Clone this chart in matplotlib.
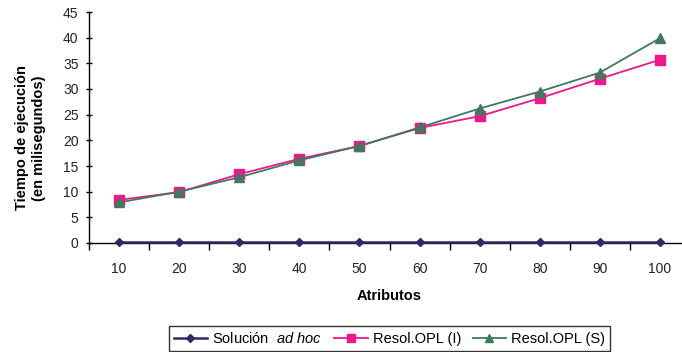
import matplotlib
matplotlib.use("Agg")
import matplotlib.pyplot as plt
from matplotlib.ticker import FixedLocator

plt.rcParams['font.family'] = ['Liberation Sans', 'DejaVu Sans']
plt.rcParams['mathtext.fontset'] = 'custom'
plt.rcParams['mathtext.rm'] = 'Liberation Sans'
plt.rcParams['mathtext.it'] = 'Liberation Sans:italic'

# Data
atributos = [10, 20, 30, 40, 50, 60, 70, 80, 90, 100]
ad_hoc = [0.1, 0.1, 0.1, 0.1, 0.1, 0.1, 0.1, 0.1, 0.1, 0.1]
opl_i = [8.4, 9.9, 13.4, 16.4, 18.9, 22.4, 24.7, 28.2, 32.0, 35.7]
opl_s = [7.9, 10.0, 12.8, 16.1, 18.9, 22.5, 26.2, 29.5, 33.2, 39.9]
yticks = [0, 5, 10, 15, 20, 25, 30, 35, 40, 45]

W, H = 682, 352
fig = plt.figure(figsize=(W / 100, H / 100), dpi=100)
ax = fig.add_axes([89 / W, (H - 243) / H, 601 / W, 231 / H])

pos = list(range(len(atributos)))
navy = '#2B2B66'
pink = '#F0168E'
green = '#3E7A5C'

ax.plot(pos, opl_i, color=pink, lw=1.3, marker='s', ms=6.5, mec=pink, mfc=pink,
        label='Resol.OPL (I)', zorder=3)
ax.plot(pos, opl_s, color=green, lw=1.3, marker='^', ms=7, mec=green, mfc=green,
        label='Resol.OPL (S)', zorder=4)
ax.plot(pos, ad_hoc, color=navy, lw=1.8, marker='D', ms=4.5, mec=navy, mfc=navy,
        label='Solución  $\\mathit{ad\\ hoc}$', zorder=5, clip_on=False)

ax.set_xlim(-0.5, len(atributos) - 0.5)
ax.set_ylim(0, 45)
ax.set_yticks(yticks)
ax.set_xticks(pos)
ax.set_xticklabels([str(a) for a in atributos])
ax.xaxis.set_minor_locator(FixedLocator([p - 0.5 for p in range(len(atributos) + 1)]))

for s in ['top', 'right']:
    ax.spines[s].set_visible(False)
for s in ['left', 'bottom']:
    ax.spines[s].set_linewidth(1.0)
    ax.spines[s].set_color('black')

ax.tick_params(axis='x', which='major', length=0, pad=14, labelsize=10, colors='#222222')
ax.tick_params(axis='x', which='minor', length=5, width=1.0, direction='out')
ax.tick_params(axis='y', which='major', length=5, width=1.0, direction='inout',
               pad=5, labelsize=10, colors='#222222')
ax.tick_params(axis='both', color='black')

ax.set_xlabel('Atributos', fontsize=10.5, fontweight='bold', labelpad=9)
ax.set_ylabel('Tiempo de ejecución\n(en milisegundos)', fontsize=10.5,
              fontweight='bold', linespacing=1.25)
ax.yaxis.set_label_coords(-0.072, 0.455)

handles, labels = ax.get_legend_handles_labels()
order = [2, 0, 1]
leg = fig.legend([handles[i] for i in order], [labels[i] for i in order],
                 loc='lower center', bbox_to_anchor=(389.5 / W, 1 / H), ncol=3,
                 fontsize=10.5, frameon=True, fancybox=False, edgecolor='black',
                 handlelength=2.3, handletextpad=0.35, columnspacing=0.8,
                 borderpad=0.35, borderaxespad=0, markerscale=0.85)
leg.get_frame().set_linewidth(1.0)

fig.savefig('out.png', dpi=100)
